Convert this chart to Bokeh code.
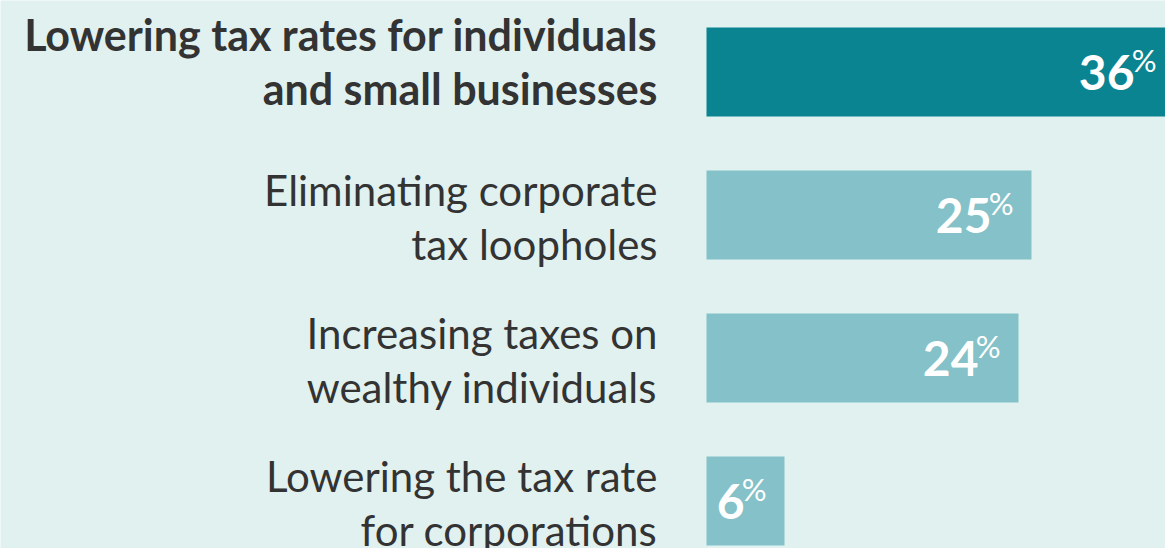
from bokeh.plotting import figure
from bokeh.models import Range1d, ColumnDataSource
from bokeh.core.properties import value
from bokeh.embed import file_html
from bokeh.resources import INLINE

# ---- data ----
labels = [
    "Lowering tax rates for individuals\nand small businesses",
    "Eliminating corporate\ntax loopholes",
    "Increasing taxes on\nwealthy individuals",
    "Lowering the tax rate\nfor corporations",
]
values = [36, 25, 24, 6]
highlight = 0

# ---- style ----
BG = "#e1f1f0"
DARK = "#0a8491"
LIGHT = "#84c1c8"
TEXT = "#333333"
FONT = "Lato"

W, H = 1165, 548
PX_PER_UNIT = 13.0
BAR_START_PX = 706
ROW_PX = 143.0
SHIFT = -16

idx = list(range(len(values)))
colors = [DARK if i == highlight else LIGHT for i in idx]

x0 = -BAR_START_PX / PX_PER_UNIT
x1 = (W - BAR_START_PX) / PX_PER_UNIT
rows_visible = H / ROW_PX

p = figure(width=W, height=H, output_backend="svg", toolbar_location=None,
           x_range=Range1d(x0, x1),
           y_range=Range1d(rows_visible - 0.5, -0.5),
           min_border=0, min_border_left=0, min_border_right=0,
           min_border_top=0, min_border_bottom=0)
p.xaxis.visible = False
p.yaxis.visible = False
p.grid.visible = False
p.outline_line_color = None
p.background_fill_color = BG
p.border_fill_color = BG

src = ColumnDataSource(dict(y=idx, v=values, c=colors,
                            num=[str(v) for v in values],
                            pct=["%"] * len(values)))
p.hbar(y="y", left=0, right="v", height=89 / ROW_PX, fill_color="c",
       line_color=None, source=src)

# value labels
p.text(x="v", y="y", text="num", source=src, text_align="right",
       text_baseline="alphabetic", x_offset=-40, y_offset=16 + SHIFT,
       text_color="white", text_font=value(FONT), text_font_style="bold",
       text_font_size="48px")
p.text(x="v", y="y", text="pct", source=src, text_align="right",
       text_baseline="alphabetic", x_offset=-18, y_offset=4 + SHIFT,
       text_color="white", text_font=value(FONT), text_font_style="normal",
       text_font_size="31px")

# category labels (two lines each)
line1 = [l.split("\n")[0] for l in labels]
line2 = [l.split("\n")[1] for l in labels]
sizes = ["43px" if i == highlight else "42px" for i in idx]
styles = ["bold" if i == highlight else "normal" for i in idx]
off1 = [(-22 if i == highlight else -9) + SHIFT for i in idx]
off2 = [(32 if i == highlight else 45) + SHIFT for i in idx]
lsrc = ColumnDataSource(dict(y=idx, a=line1, b=line2, s=styles, fs=sizes,
                             o1=off1, o2=off2))
for col, off in (("a", "o1"), ("b", "o2")):
    p.text(x=0, y="y", text=col, source=lsrc, text_align="right",
           text_baseline="alphabetic", x_offset=-49, y_offset=off,
           text_color=TEXT, text_font=value(FONT), text_font_style="s",
           text_font_size="fs")

html = file_html(p, INLINE)
html = html.replace("<body>", '<body style="margin:0;overflow:hidden;background:%s">' % BG, 1)
open("out.html", "w").write(html)
